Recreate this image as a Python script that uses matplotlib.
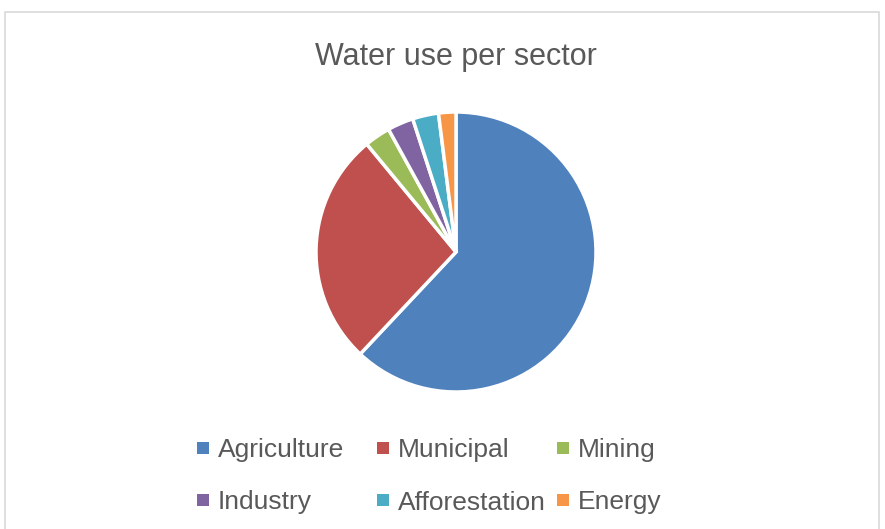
import matplotlib.pyplot as plt
from matplotlib.patches import Rectangle

# data (percent of total water use)
sectors = ['Agriculture', 'Municipal', 'Mining', 'Industry', 'Afforestation', 'Energy']
shares = [62, 27, 3, 3, 3, 2]
colors = ['#4F81BD', '#C0504D', '#9BBB59', '#8064A2', '#4BACC6', '#F79646']

plt.rcParams['font.family'] = ['Liberation Sans', 'DejaVu Sans']

W, H = 885, 529
fig = plt.figure(figsize=(W / 100, H / 100), dpi=100)

# light grey chart border
fig.patches.append(Rectangle((5 / W, -0.01), (879 - 5) / W, (H - 12) / H + 0.01,
                             transform=fig.transFigure, fill=False,
                             edgecolor='#D9D9D9', linewidth=1.2))

# pie centred near (456, 252) px with radius ~140 px
cx, cy, r = 456, 252, 140
ax = fig.add_axes([(cx - r) / W, (H - cy - r) / H, 2 * r / W, 2 * r / H])
wedges, _ = ax.pie(shares, colors=colors, startangle=90, counterclock=False,
                   radius=1.0, wedgeprops=dict(edgecolor='white', linewidth=2.5))
ax.set_xlim(-1, 1)
ax.set_ylim(-1, 1)
ax.set_aspect('equal')
ax.axis('off')

fig.text(cx / W, 1 - 57 / H, 'Water use per sector', ha='center', va='center',
         fontsize=22, color='#595959')

# legend laid out like Excel: equal column widths, filled row by row
x0, y0 = 197, 448      # first marker left edge / row centre (px)
col_w, row_h, sq = 180, 52, 12
for i, (name, c) in enumerate(zip(sectors, colors)):
    row, col = divmod(i, 3)
    mx = x0 + col * col_w
    my = y0 + row * row_h
    fig.patches.append(Rectangle((mx / W, 1 - (my + sq / 2) / H), sq / W, sq / H,
                                 transform=fig.transFigure, facecolor=c, edgecolor='none'))
    fig.text((mx + sq + 9) / W, 1 - my / H, name, ha='left', va='center_baseline',
             fontsize=19, color='#595959')

fig.savefig('out.png', dpi=100)
